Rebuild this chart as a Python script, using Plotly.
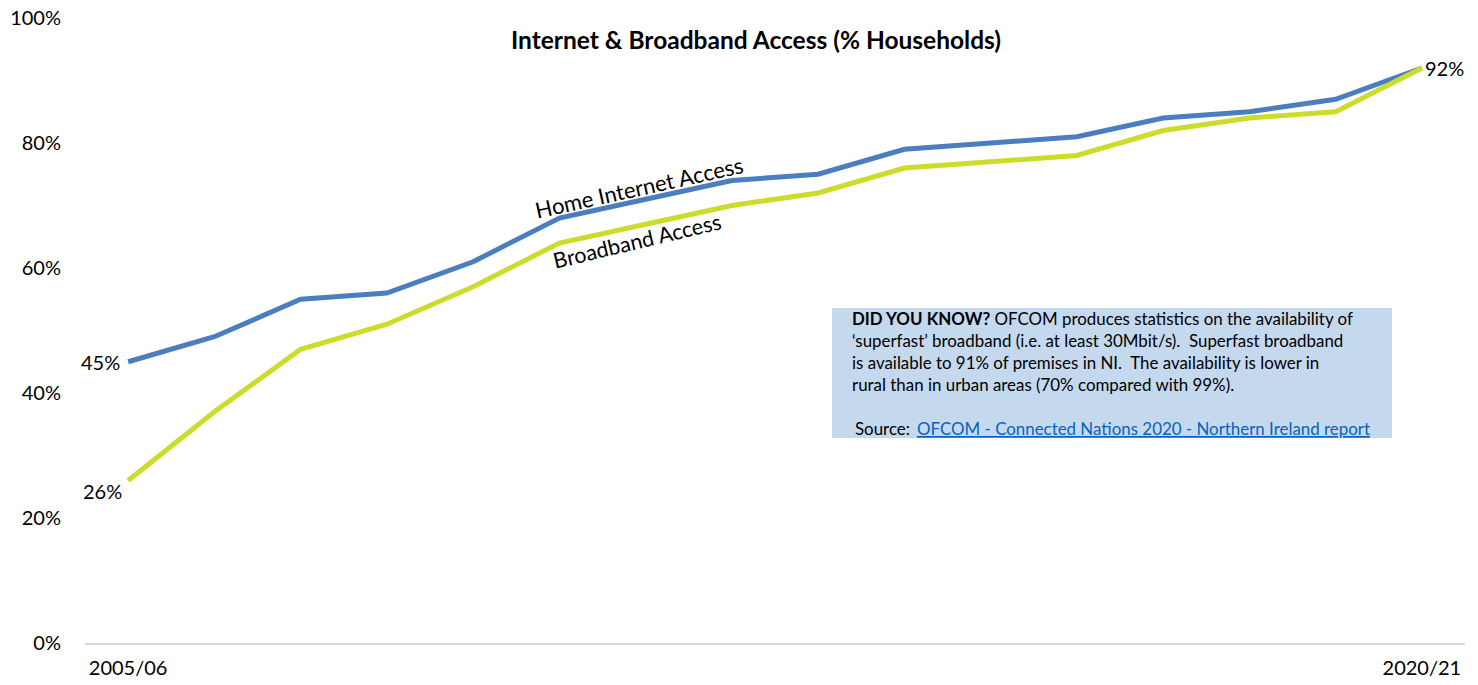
import plotly.graph_objects as go

years = ["2005/06", "2006/07", "2007/08", "2008/09", "2009/10", "2010/11", "2011/12", "2012/13",
         "2013/14", "2014/15", "2015/16", "2016/17", "2017/18", "2018/19", "2019/20", "2020/21"]
home_internet = [45, 49, 55, 56, 61, 68, 71, 74, 75, 79, 80, 81, 84, 85, 87, 92]
broadband = [26, 37, 47, 51, 57, 64, 67, 70, 72, 76, 77, 78, 82, 84, 85, 92]
y_ticks = [0, 20, 40, 60, 80, 100]
y_tick_text = [f"{v}%" for v in y_ticks]
x_tick_labels = [years[0], years[-1]]

FONT = "Lato"
BLUE = "#4A7EBF"
GREEN = "#CBDC2A"

fig = go.Figure()
fig.add_trace(go.Scatter(x=years, y=home_internet, mode="lines", name="Home Internet Access",
                         line=dict(color=BLUE, width=5), showlegend=False))
fig.add_trace(go.Scatter(x=years, y=broadband, mode="lines", name="Broadband Access",
                         line=dict(color=GREEN, width=5), showlegend=False))

ann = []
# data labels
ann.append(dict(x=years[0], y=home_internet[0], text=f"{home_internet[0]}%", showarrow=False,
                xanchor="right", yanchor="middle", xshift=-6, font=dict(size=20)))
ann.append(dict(x=years[0], y=broadband[0], text=f"{broadband[0]}%", showarrow=False,
                xanchor="right", yanchor="middle", xshift=-4, yshift=-10, font=dict(size=20)))
ann.append(dict(x=years[-1], y=home_internet[-1], text=f"{home_internet[-1]}%", showarrow=False,
                xanchor="left", yanchor="middle", xshift=1, font=dict(size=20)))
# series labels
ann.append(dict(x=5.92, y=72.9, text="Home Internet Access", showarrow=False, textangle=-12.5,
                font=dict(size=22)))
ann.append(dict(x=5.9, y=64.4, text="Broadband Access", showarrow=False, textangle=-13.5,
                font=dict(size=21.5)))

# info box (paper coordinates)
box_x0, box_x1 = (832 - 85) / 1380, (1392 - 85) / 1380
box_y0, box_y1 = (643 - 438) / 625, (643 - 308) / 625
fig.add_shape(type="rect", xref="paper", yref="paper", x0=box_x0, x1=box_x1, y0=box_y0, y1=box_y1,
              fillcolor="#C5D9EE", line=dict(width=0), layer="below")
lines = [
    "<b>DID YOU KNOW?</b> OFCOM produces statistics on the availability of",
    "\u2018superfast\u2019 broadband (i.e. at least 30Mbit/s).  Superfast broadband",
    "is available to 91% of premises in NI.  The availability is lower in",
    "rural than in urban areas (70% compared with 99%).",
]
tx = box_x0 + 18 / 1380
for i, t in enumerate(lines):
    ann.append(dict(xref="paper", yref="paper", x=tx, y=(643 - (318 + 22 * i)) / 625, text=t,
                    showarrow=False, xanchor="left", yanchor="middle", font=dict(size=16.9)))
ann.append(dict(xref="paper", yref="paper", x=box_x0 + 21 / 1380, y=(643 - 428) / 625, text="Source:",
                showarrow=False, xanchor="left", yanchor="middle", font=dict(size=16.9)))
ann.append(dict(xref="paper", yref="paper", x=box_x0 + 83 / 1380, y=(643 - 428) / 625,
                text="OFCOM - Connected Nations 2020 - Northern Ireland report",
                showarrow=False, xanchor="left", yanchor="middle",
                font=dict(size=16.9, color="#0563C1", lineposition="under")))

fig.update_layout(
    width=1478, height=685,
    margin=dict(l=85, r=13, t=18, b=42, autoexpand=False),
    paper_bgcolor="white", plot_bgcolor="white",
    font=dict(family=FONT, color="#000000", size=20),
    title=dict(text="<b>Internet & Broadband Access (% Households)</b>", x=0.5115, xanchor="center",
               y=0.941, yanchor="middle", font=dict(size=24.5)),
    annotations=ann,
    xaxis=dict(type="category", range=[-0.5, 15.5], showgrid=False, showline=True, automargin=False,
               linecolor="#D9D9D9", linewidth=2, tickvals=x_tick_labels, ticktext=x_tick_labels,
               ticks="", ticklabelstandoff=6, tickfont=dict(size=20), zeroline=False),
    yaxis=dict(range=[0, 100], tickvals=y_ticks, ticktext=y_tick_text, showgrid=False, showline=False,
               automargin=False, zeroline=False, ticks="", ticklabelstandoff=23, tickfont=dict(size=20)),
)

fig.write_html("out.html", config={"displayModeBar": False},
               post_script="document.body.style.margin='0';document.body.style.overflow='hidden';")
